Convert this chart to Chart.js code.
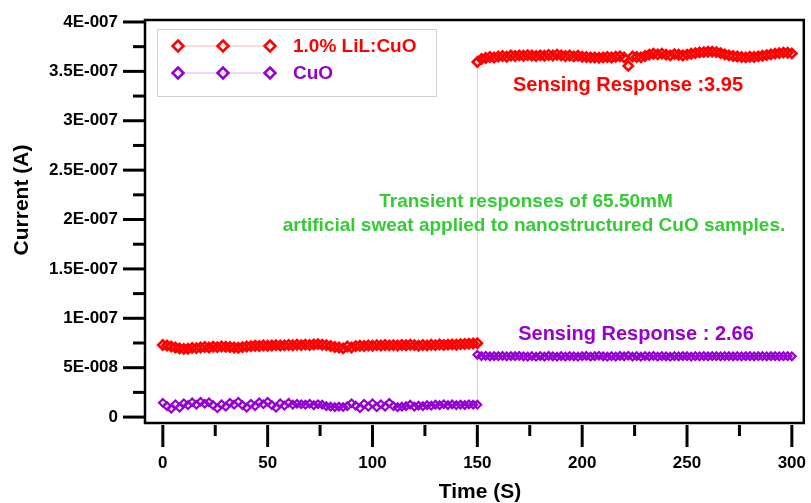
<!DOCTYPE html>
<html>
<head>
<meta charset="utf-8">
<script src="https://cdn.jsdelivr.net/npm/chart.js"></script>
<style>
  body { margin: 0; background: #fff; }
  #wrap { width: 811px; height: 503px; position: relative; }
</style>
</head>
<body>
<div id="wrap"><canvas id="chart"></canvas></div>
<script>
// values are in units of 1E-008 A
const UNIT = 1e-8;

const timeBefore = [0,2,4,6,8,10,12,14,16,18,20,22,24,26,28,30,32,34,36,38,40,42,44,46,48,50,52,54,56,58,60,62,64,66,68,70,72,74,76,78,80,82,84,86,88,90,92,94,96,98,100,102,104,106,108,110,112,114,116,118,120,122,124,126,128,130,132,134,136,138,140,142,144,146,148,150];
const timeAfter = [150,152,154,156,158,160,162,164,166,168,170,172,174,176,178,180,182,184,186,188,190,192,194,196,198,200,202,204,206,208,210,212,214,216,218,220,222,224,226,228,230,232,234,236,238,240,242,244,246,248,250,252,254,256,258,260,262,264,266,268,270,272,274,276,278,280,282,284,286,288,290,292,294,296,298,300];

const lilBefore = [
  7.30,7.25,7.15,7.05,6.95,6.90,6.92,7.00,6.98,7.05,
  7.10,7.05,7.12,7.08,7.15,7.12,7.10,7.05,7.02,7.08,
  7.15,7.18,7.22,7.20,7.25,7.22,7.25,7.28,7.24,7.26,
  7.30,7.27,7.32,7.28,7.33,7.30,7.35,7.38,7.32,7.28,
  7.20,7.10,7.05,6.95,7.15,7.05,7.18,7.22,7.20,7.25,
  7.22,7.28,7.25,7.30,7.26,7.28,7.24,7.30,7.27,7.32,
  7.28,7.22,7.30,7.26,7.32,7.28,7.35,7.30,7.33,7.36,
  7.32,7.38,7.40,7.42,7.45,7.48
];
const lilAfter = [
  35.95,36.25,36.35,36.45,36.40,36.50,36.55,36.48,36.60,36.55,
  36.62,36.58,36.65,36.60,36.55,36.62,36.58,36.66,36.60,36.68,
  36.62,36.55,36.60,36.52,36.58,36.48,36.45,36.42,36.40,36.38,
  36.42,36.45,36.40,36.48,36.52,36.40,35.55,36.50,36.45,36.42,
  36.55,36.70,36.78,36.72,36.80,36.70,36.62,36.75,36.68,36.60,
  36.70,36.78,36.85,36.92,36.95,36.98,37.00,36.95,36.85,36.72,
  36.62,36.55,36.50,36.45,36.42,36.48,36.45,36.52,36.58,36.65,
  36.72,36.80,36.85,36.90,36.88,36.82
];
const cuoBefore = [
  1.45,1.10,0.85,1.30,0.95,1.40,1.20,1.50,1.25,1.55,
  1.35,1.50,1.20,0.90,1.30,1.05,1.45,1.25,1.55,1.20,
  0.95,1.35,1.10,1.50,1.30,1.55,1.20,0.95,1.40,1.15,
  1.45,1.25,1.35,1.30,1.25,1.35,1.20,1.30,1.25,1.10,
  1.05,1.00,1.05,1.02,1.10,1.40,1.15,0.90,1.35,1.05,
  1.40,1.00,1.30,1.05,1.45,1.10,1.00,1.05,1.10,1.25,
  1.05,1.15,1.10,1.20,1.15,1.25,1.20,1.30,1.22,1.28,
  1.20,1.25,1.22,1.28,1.25,1.25
];
const cuoAfter = [
  6.30,6.18,6.20,6.15,6.18,6.17,6.19,6.15,6.18,6.16,
  6.19,6.15,6.13,6.17,6.11,6.18,6.13,6.19,6.15,6.11,
  6.17,6.13,6.18,6.15,6.11,6.16,6.19,6.13,6.17,6.21,
  6.15,6.11,6.17,6.13,6.19,6.15,6.21,6.13,6.17,6.11,
  6.18,6.15,6.19,6.13,6.17,6.15,6.11,6.17,6.15,6.18,
  6.16,6.13,6.17,6.15,6.18,6.15,6.17,6.16,6.15,6.17,
  6.16,6.15,6.17,6.15,6.16,6.17,6.15,6.16,6.17,6.15,
  6.16,6.17,6.15,6.16,6.17,6.15
];

const xTicks = [0, 50, 100, 150, 200, 250, 300];
const xMinorTicks = [25, 75, 125, 175, 225, 275];
const yTicks = [0, 5e-8, 1e-7, 1.5e-7, 2e-7, 2.5e-7, 3e-7, 3.5e-7, 4e-7];
const yTickLabels = ["0", "5E-008", "1E-007", "1.5E-007", "2E-007", "2.5E-007", "3E-007", "3.5E-007", "4E-007"];
const yMinorTicks = [2.5e-8, 7.5e-8, 1.25e-7, 1.75e-7, 2.25e-7, 2.75e-7, 3.25e-7, 3.75e-7];

const seriesNames = ["1.0% LiL:CuO", "CuO"];
const RED = "#ff0000";
const PURPLE = "#9400d3";
const GREEN = "#33cc33";
const FONT = "'Liberation Sans', Arial, sans-serif";

function toPoints(times, vals) {
  return times.map((t, i) => ({ x: t, y: vals[i] * UNIT }));
}

const lilData = toPoints(timeBefore, lilBefore).concat(toPoints(timeAfter, lilAfter));
const cuoData = toPoints(timeBefore, cuoBefore).concat(toPoints(timeAfter, cuoAfter));

// tick marks, frame, legend and notes
const decor = {
  id: "decor",
  afterDraw(chart) {
    const ctx = chart.ctx;
    const a = chart.chartArea;
    const xs = chart.scales.x, ys = chart.scales.y;
    ctx.save();
    ctx.strokeStyle = "#000";
    ctx.lineWidth = 3;
    ctx.lineCap = "butt";
    // y ticks
    yTicks.forEach(v => {
      const y = ys.getPixelForValue(v);
      ctx.beginPath(); ctx.moveTo(a.left - 22, y); ctx.lineTo(a.left, y); ctx.stroke();
    });
    yMinorTicks.forEach(v => {
      const y = ys.getPixelForValue(v);
      ctx.beginPath(); ctx.moveTo(a.left - 12, y); ctx.lineTo(a.left, y); ctx.stroke();
    });
    // x ticks
    xTicks.forEach(v => {
      const x = xs.getPixelForValue(v);
      ctx.beginPath(); ctx.moveTo(x, a.bottom + 2); ctx.lineTo(x, a.bottom + 24); ctx.stroke();
    });
    xMinorTicks.forEach(v => {
      const x = xs.getPixelForValue(v);
      ctx.beginPath(); ctx.moveTo(x, a.bottom + 2); ctx.lineTo(x, a.bottom + 13); ctx.stroke();
    });
    // frame
    ctx.lineWidth = 2.5;
    ctx.strokeRect(a.left, a.top, a.right - a.left, a.bottom - a.top);

    // axis titles
    ctx.fillStyle = "#000";
    ctx.font = "bold 21px " + FONT;
    ctx.textAlign = "center";
    ctx.textBaseline = "middle";
    ctx.fillText("Time (S)", 480, 492);
    ctx.save();
    ctx.translate(22, 200);
    ctx.rotate(-Math.PI / 2);
    ctx.fillText("Current (A)", 0, 0);
    ctx.restore();

    // legend
    ctx.lineWidth = 1;
    ctx.strokeStyle = "#d0d0d0";
    ctx.strokeRect(157.5, 29.5, 279, 67);
    const rows = [
      { y: 46, color: RED, line: "rgba(255,0,0,0.3)", text: seriesNames[0] },
      { y: 73, color: PURPLE, line: "rgba(148,0,211,0.3)", text: seriesNames[1] }
    ];
    rows.forEach(r => {
      ctx.strokeStyle = r.line;
      ctx.lineWidth = 1;
      ctx.beginPath(); ctx.moveTo(178, r.y); ctx.lineTo(270, r.y); ctx.stroke();
      ctx.strokeStyle = r.color;
      ctx.lineWidth = 2.5;
      [178, 223, 270].forEach(cx => {
        const s = 5.5;
        ctx.beginPath();
        ctx.moveTo(cx, r.y - s); ctx.lineTo(cx + s, r.y); ctx.lineTo(cx, r.y + s); ctx.lineTo(cx - s, r.y);
        ctx.closePath(); ctx.stroke();
      });
      ctx.fillStyle = r.color;
      ctx.font = "bold 19px " + FONT;
      ctx.textAlign = "left";
      ctx.fillText(r.text, 293, r.y + 1);
    });

    // notes
    ctx.textAlign = "center";
    ctx.font = "bold 20px " + FONT;
    ctx.fillStyle = RED;
    ctx.fillText("Sensing Response :3.95", 628, 85);
    ctx.fillStyle = "#9900cc";
    ctx.fillText("Sensing Response : 2.66", 636, 334);
    ctx.fillStyle = GREEN;
    ctx.font = "bold 19px " + FONT;
    ctx.fillText("Transient responses of 65.50mM", 526, 202);
    ctx.fillText("artificial sweat applied to nanostructured CuO samples.", 534, 226);
    ctx.restore();
  }
};

const pointStyle = (color, line, r, bw) => ({
  borderColor: line,
  borderWidth: 1,
  pointStyle: "rectRot",
  pointRadius: r,
  pointBorderWidth: bw,
  pointBorderColor: color,
  pointBackgroundColor: "rgba(0,0,0,0)",
  tension: 0,
  fill: false
});

new Chart(document.getElementById("chart"), {
  type: "line",
  data: {
    datasets: [
      Object.assign({ label: seriesNames[0], data: lilData }, pointStyle(RED, "rgba(255,0,0,0.25)", 4.6, 2.6)),
      Object.assign({ label: seriesNames[1], data: cuoData }, pointStyle(PURPLE, "rgba(148,0,211,0.25)", 3.8, 2.2))
    ]
  },
  options: {
    responsive: true,
    maintainAspectRatio: false,
    animation: false,
    layout: { padding: { top: 20, right: 3, left: 0, bottom: 0 } },
    plugins: { legend: { display: false }, tooltip: { enabled: false } },
    scales: {
      x: {
        type: "linear",
        min: -8.5,
        max: 305.7,
        afterBuildTicks: s => { s.ticks = xTicks.map(v => ({ value: v })); },
        afterFit: s => { s.height = 80; s.paddingLeft = 0; s.paddingRight = 0; },
        grid: { display: false, drawTicks: false },
        border: { display: false },
        ticks: {
          padding: 30,
          color: "#000",
          font: { family: FONT, size: 17, weight: "bold" },
          maxRotation: 0,
          autoSkip: false
        }
      },
      y: {
        type: "linear",
        min: -0.6e-8,
        max: 40.2e-8,
        afterBuildTicks: s => { s.ticks = yTicks.map(v => ({ value: v })); },
        afterFit: s => { s.width = 145; s.paddingTop = 0; s.paddingBottom = 0; },
        grid: { display: false, drawTicks: false },
        border: { display: false },
        ticks: {
          padding: 27,
          color: "#000",
          font: { family: FONT, size: 17, weight: "bold" },
          autoSkip: false,
          callback: (v, i) => yTickLabels[i]
        }
      }
    }
  },
  plugins: [decor]
});
</script>
</body>
</html>
